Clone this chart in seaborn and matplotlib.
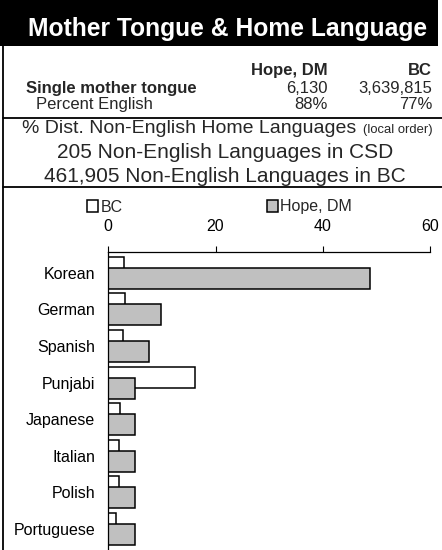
import numpy as np
import pandas as pd
import matplotlib
matplotlib.use("Agg")
import matplotlib.pyplot as plt
import seaborn as sns
from matplotlib.patches import Rectangle
from matplotlib.lines import Line2D

# data
languages = ["Korean", "German", "Spanish", "Punjabi", "Japanese",
             "Italian", "Polish", "Portuguese"]
bc_pct = [3.0, 3.2, 2.7, 16.2, 2.2, 2.0, 2.0, 1.5]
hope_pct = [48.9, 9.9, 7.5, 5.0, 5.0, 5.0, 5.0, 5.0]
x_ticks = [0, 20, 40, 60]

table_cols = ["Hope, DM", "BC"]
mother_tongue = ["6,130", "3,639,815"]
pct_english = ["88%", "77%"]
csd_count = "205"
bc_count = "461,905"

sns.set_theme(style="white")
plt.rcParams["font.family"] = ["Liberation Sans", "DejaVu Sans"]

W, H = 442, 550
fig = plt.figure(figsize=(W / 100, H / 100), dpi=100)


def fx(px):
    return px / W


def fy(py):
    return 1 - py / H


# header block and frame
fig.add_artist(Rectangle((0, fy(46)), fx(438), 46 / H, transform=fig.transFigure,
                         facecolor="black", edgecolor="none"))
fig.add_artist(Line2D([fx(3), fx(3)], [fy(46), 0], transform=fig.transFigure,
                      color="black", lw=1.3))
for yy in (118, 187.5):
    fig.add_artist(Line2D([fx(3), 1], [fy(yy), fy(yy)], transform=fig.transFigure,
                          color="black", lw=1.3))

fig.text(fx(228), fy(36), "Mother Tongue & Home Language", color="white",
         fontsize=17.7, fontweight="bold", ha="center", va="baseline")

# small table
for name, right in zip(table_cols, (328, 432)):
    fig.text(fx(right), fy(75), name, fontsize=12, fontweight="bold",
             ha="right", va="baseline")
fig.text(fx(26), fy(92.7), "Single mother tongue", fontsize=12,
         fontweight="bold", va="baseline")
fig.text(fx(36), fy(109), "Percent English", fontsize=12, va="baseline")
for val, right in zip(mother_tongue, (328, 432)):
    fig.text(fx(right), fy(92.7), val, fontsize=12, ha="right", va="baseline")
for val, right in zip(pct_english, (328, 432)):
    fig.text(fx(right), fy(109), val, fontsize=12, ha="right", va="baseline")

fig.text(fx(22), fy(133), "% Dist. Non-English Home Languages", fontsize=14,
         va="baseline")
fig.text(fx(433), fy(133), "(local order)", fontsize=9.4, ha="right",
         va="baseline")
fig.text(fx(225), fy(158), f"{csd_count} Non-English Languages in CSD",
         fontsize=15, ha="center", va="baseline")
fig.text(fx(225), fy(182), f"{bc_count} Non-English Languages in BC",
         fontsize=15, ha="center", va="baseline")

# bar chart
ax = fig.add_axes([fx(108.3), 0, fx(430) - fx(108.3), 1 - 252 / H])
pos = np.arange(len(languages))
sns.barplot(x=bc_pct, y=pos - 0.15, orient="y", native_scale=True, width=0.575,
            color="white", edgecolor="black", linewidth=1.1, saturation=1,
            label="BC", ax=ax)
sns.barplot(x=hope_pct, y=pos + 0.15, orient="y", native_scale=True, width=0.575,
            color="#c0c0c0", edgecolor="black", linewidth=1.1, saturation=1,
            label="Hope, DM", ax=ax)

ax.set_xlim(0, 60)
ax.set_ylim(7.58, -0.57)
ax.set_yticks(pos)
ax.set_yticklabels(languages)
ax.set_xticks(x_ticks)
ax.xaxis.tick_top()
ax.tick_params(axis="x", direction="out", length=4, width=0.8, pad=9,
               labelsize=11.5, colors="black", top=True, bottom=False)
ax.tick_params(axis="y", length=0, pad=9.5, labelsize=11.5, colors="black")
ax.set_xlabel("")
ax.set_ylabel("")
for side in ("right", "bottom"):
    ax.spines[side].set_visible(False)
for side in ("left", "top"):
    ax.spines[side].set_color("black")
    ax.spines[side].set_linewidth(0.9)

leg = ax.legend(loc="center", bbox_to_anchor=(fx(219.5), fy(207)),
                bbox_transform=fig.transFigure, ncol=2, frameon=False,
                fontsize=11.5, handlelength=0.72, handleheight=0.72,
                handletextpad=0.15, columnspacing=9.0, borderpad=0)

fig.savefig("out.png", dpi=100)
